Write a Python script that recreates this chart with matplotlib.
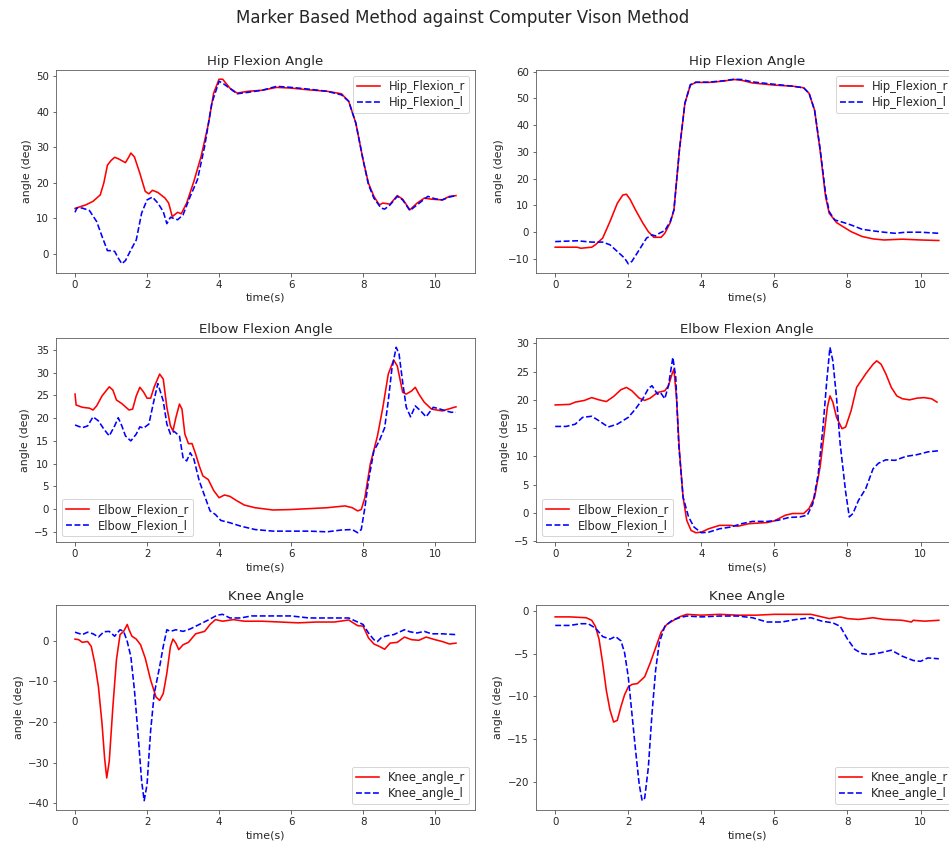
import matplotlib
matplotlib.use("Agg")
import matplotlib.pyplot as plt

# ---------------- data ----------------
# Panel 1: Hip Flexion Angle (left)
hip1_r_t = [0, 0.3, 0.5, 0.7, 0.8, 0.9, 1.0, 1.1, 1.2, 1.4, 1.5, 1.55, 1.65, 1.8, 1.95, 2.05, 2.15, 2.3, 2.5, 2.6,
            2.7, 2.85, 2.95, 3.1, 3.3, 3.5, 3.7, 3.85, 4.0, 4.1, 4.3, 4.5, 4.8, 5.2, 5.6, 6.0, 6.5, 7.0, 7.4, 7.6,
            7.8, 8.0, 8.15, 8.3, 8.45, 8.55, 8.75, 8.95, 9.1, 9.3, 9.5, 9.7, 9.9, 10.2, 10.4, 10.58]
hip1_r_v = [12.8, 13.8, 14.8, 16.6, 20.0, 25.0, 26.3, 27.2, 26.8, 25.7, 27.4, 28.4, 27.3, 22.7, 17.6, 16.9, 17.9, 17.3, 15.7, 14.3,
            10.5, 11.7, 11.3, 14.3, 20.4, 27.4, 36.4, 45.3, 49.2, 49.2, 46.7, 45.3, 45.8, 46.1, 46.9, 46.7, 46.2, 45.8, 45.1, 43.0,
            36.8, 26.5, 19.9, 16.2, 13.8, 14.3, 14.0, 16.4, 15.4, 12.4, 14.3, 15.7, 15.4, 15.2, 16.2, 16.4]
hip1_l_t = [0, 0.05, 0.2, 0.4, 0.6, 0.75, 0.9, 1.0, 1.1, 1.2, 1.3, 1.4, 1.55, 1.7, 1.85, 2.0, 2.15, 2.3, 2.45, 2.55,
            2.65, 2.85, 3.0, 3.2, 3.4, 3.6, 3.8, 4.0, 4.1, 4.5, 4.8, 5.2, 5.6, 6.0, 6.5, 7.0, 7.4, 7.6, 7.8, 8.0,
            8.15, 8.3, 8.5, 8.6, 8.75, 8.95, 9.1, 9.3, 9.5, 9.8, 10.0, 10.2, 10.4, 10.58]
hip1_l_v = [11.7, 12.9, 12.9, 12.2, 9.1, 4.9, 0.9, 0.9, 0.7, -1.2, -2.8, -1.9, 1.1, 3.9, 11.5, 15.2, 16.0, 14.3, 11.9, 8.5,
            10.3, 9.6, 11.0, 16.2, 20.9, 30.3, 42.5, 48.6, 48.1, 45.1, 45.5, 46.1, 47.2, 46.9, 46.4, 45.8, 44.8, 43.0, 36.8, 26.5,
            19.5, 15.7, 12.9, 12.6, 13.8, 16.2, 15.2, 12.2, 13.8, 16.2, 15.5, 15.2, 16.0, 16.4]

# Panel 2: Hip Flexion Angle (right)
hip2_r_t = [0, 0.6, 0.7, 1.0, 1.1, 1.3, 1.5, 1.7, 1.85, 1.95, 2.05, 2.2, 2.4, 2.55, 2.7, 2.9, 3.0, 3.15, 3.25, 3.4,
            3.55, 3.7, 3.85, 4.2, 4.6, 4.9, 5.1, 5.4, 6.0, 6.5, 6.8, 6.95, 7.1, 7.25, 7.4, 7.5, 7.7, 7.9, 8.1, 8.4,
            8.7, 9.0, 9.5, 10.0, 10.5]
hip2_r_v = [-5.6, -5.6, -6.0, -5.6, -4.7, -2.2, 4.0, 10.8, 13.9, 14.2, 12.3, 8.3, 3.4, 0.2, -1.9, -1.9, -0.4, 3.6, 8.3, 30.7,
            48.2, 55.0, 56.0, 56.0, 56.5, 57.1, 56.8, 55.8, 55.0, 54.6, 54.0, 51.9, 45.6, 30.7, 13.3, 7.1, 3.6, 1.9, 0.2, -1.6,
            -2.5, -2.9, -2.6, -2.9, -3.1]
hip2_l_t = [0, 0.6, 1.0, 1.3, 1.5, 1.7, 1.9, 2.0, 2.1, 2.3, 2.5, 2.65, 2.75, 2.85, 3.0, 3.15, 3.25, 3.4, 3.55, 3.7,
            3.85, 4.2, 4.6, 4.9, 5.1, 5.4, 6.0, 6.5, 6.8, 6.95, 7.1, 7.25, 7.4, 7.5, 7.65, 7.9, 8.1, 8.4, 8.7, 9.0,
            9.3, 9.6, 10.0, 10.5]
hip2_l_v = [-3.5, -3.2, -3.7, -3.7, -4.7, -7.2, -9.7, -11.8, -10.9, -6.6, -2.2, -1.0, -1.4, -0.4, 0.6, 4.0, 8.3, 30.7, 48.2, 55.2,
            56.1, 56.1, 56.6, 57.2, 57.1, 56.2, 55.3, 54.6, 54.0, 51.9, 45.6, 31.3, 14.5, 7.7, 4.6, 3.6, 2.7, 1.1, 0.5, 0.0,
            -0.4, 0.0, 0.0, -0.4]

# Panel 3: Elbow Flexion Angle (left)
elb1_r_t = [0, 0.03, 0.2, 0.4, 0.5, 0.6, 0.75, 0.95, 1.05, 1.15, 1.3, 1.5, 1.6, 1.7, 1.8, 1.9, 2.0, 2.1, 2.2, 2.35,
            2.45, 2.55, 2.65, 2.72, 2.8, 2.9, 2.97, 3.05, 3.15, 3.25, 3.35, 3.45, 3.55, 3.7, 3.85, 4.0, 4.15, 4.3, 4.5, 4.7,
            5.0, 5.5, 6.0, 6.5, 7.0, 7.5, 7.7, 7.85, 7.95, 8.05, 8.2, 8.4, 8.55, 8.7, 8.85, 8.95, 9.1, 9.2, 9.35, 9.45,
            9.55, 9.7, 9.9, 10.2, 10.45, 10.58]
elb1_r_v = [25.3, 22.9, 22.4, 22.2, 21.8, 22.7, 24.9, 26.9, 26.2, 24.0, 23.2, 21.8, 22.0, 24.9, 26.8, 25.8, 24.4, 24.4, 26.9, 29.7,
            28.6, 22.4, 18.3, 17.2, 20.1, 23.1, 22.0, 16.5, 14.4, 14.4, 12.1, 9.5, 7.3, 6.5, 4.1, 2.5, 3.1, 2.8, 1.8, 0.9,
            0.3, -0.2, -0.1, 0.1, 0.3, 0.7, 0.3, -0.4, -0.1, 2.5, 9.9, 16.1, 22.4, 29.7, 32.8, 31.5, 25.7, 25.3, 26.0, 26.8,
            25.3, 23.5, 22.0, 21.6, 22.2, 22.5]
elb1_l_t = [0, 0.2, 0.35, 0.5, 0.65, 0.8, 0.95, 1.1, 1.2, 1.3, 1.4, 1.55, 1.7, 1.8, 1.9, 2.05, 2.2, 2.3, 2.45, 2.55,
            2.65, 2.75, 2.9, 3.0, 3.1, 3.2, 3.3, 3.45, 3.6, 3.75, 3.9, 4.05, 4.3, 4.6, 5.0, 5.5, 6.0, 6.5, 7.0, 7.4,
            7.7, 7.85, 7.95, 8.05, 8.15, 8.3, 8.45, 8.6, 8.7, 8.8, 8.92, 9.0, 9.1, 9.2, 9.32, 9.45, 9.6, 9.75, 9.95, 10.1,
            10.3, 10.45, 10.58]
elb1_l_v = [18.5, 17.9, 18.3, 20.3, 19.4, 17.6, 16.1, 18.3, 20.1, 18.3, 16.1, 15.0, 16.5, 18.1, 17.8, 18.7, 24.2, 27.6, 23.8, 18.7,
            16.5, 17.1, 16.1, 11.3, 10.6, 12.4, 11.0, 6.2, 2.9, -0.4, -1.2, -2.5, -3.0, -3.75, -4.5, -4.85, -4.85, -4.85, -5.0, -4.6,
            -4.5, -5.2, -4.5, 0.3, 6.2, 12.8, 15.0, 17.9, 23.8, 30.8, 35.6, 34.1, 27.9, 22.4, 20.3, 22.7, 21.6, 20.3, 22.4, 22.1,
            21.6, 21.3, 21.3]

# Panel 4: Elbow Flexion Angle (right)
elb2_r_t = [0, 0.4, 0.55, 0.8, 1.0, 1.2, 1.4, 1.6, 1.8, 1.95, 2.1, 2.3, 2.45, 2.6, 2.8, 3.0, 3.1, 3.2, 3.25, 3.32,
            3.4, 3.5, 3.6, 3.72, 3.85, 4.0, 4.2, 4.5, 4.8, 5.0, 5.3, 5.8, 6.0, 6.3, 6.5, 6.8, 6.95, 7.1, 7.25, 7.35,
            7.45, 7.52, 7.6, 7.7, 7.85, 7.95, 8.1, 8.25, 8.5, 8.7, 8.8, 8.92, 9.05, 9.2, 9.35, 9.5, 9.7, 9.9, 10.1, 10.3,
            10.45]
elb2_r_v = [19.1, 19.2, 19.6, 19.9, 20.4, 20.0, 19.7, 20.6, 21.8, 22.2, 21.6, 20.3, 19.9, 20.3, 21.3, 21.6, 22.5, 24.6, 25.4, 20.4,
            11.0, 2.8, -1.3, -3.1, -3.5, -3.4, -2.8, -2.2, -2.2, -2.35, -1.9, -1.7, -1.4, -0.4, -0.1, -0.1, 0.8, 2.8, 8.1, 13.4,
            18.7, 20.7, 19.6, 16.9, 14.9, 15.2, 18.1, 22.2, 24.6, 26.3, 26.9, 26.3, 24.6, 22.2, 20.7, 20.2, 20.0, 20.3, 20.4, 20.2,
            19.6]
elb2_l_t = [0, 0.3, 0.55, 0.75, 1.0, 1.2, 1.45, 1.7, 2.0, 2.2, 2.4, 2.55, 2.65, 2.8, 2.88, 3.0, 3.1, 3.22, 3.3, 3.38,
            3.5, 3.65, 3.8, 4.0, 4.2, 4.5, 4.8, 5.1, 5.4, 5.8, 6.1, 6.4, 6.7, 6.9, 7.05, 7.2, 7.33, 7.43, 7.52, 7.6,
            7.7, 7.8, 7.95, 8.05, 8.15, 8.3, 8.5, 8.7, 8.85, 9.05, 9.3, 9.6, 9.9, 10.2, 10.5]
elb2_l_v = [15.3, 15.3, 15.7, 16.9, 17.1, 16.3, 15.2, 15.7, 16.9, 18.4, 20.2, 22.0, 22.5, 21.0, 21.3, 20.2, 22.5, 27.5, 24.0, 12.2,
            2.8, -0.7, -2.5, -3.5, -3.4, -2.8, -2.5, -1.9, -1.5, -1.5, -1.3, -0.8, -0.7, -0.4, 1.6, 6.9, 15.2, 23.1, 29.3, 26.9,
            20.4, 12.2, 3.7, -0.7, -0.1, 2.2, 4.3, 7.8, 8.8, 9.4, 9.3, 10.0, 10.3, 10.8, 11.0]

# Panel 5: Knee Angle (left)
knee1_r_t = [0, 0.1, 0.2, 0.35, 0.45, 0.55, 0.65, 0.75, 0.82, 0.88, 0.95, 1.05, 1.15, 1.25, 1.35, 1.45, 1.5, 1.58, 1.7, 1.82,
             1.95, 2.1, 2.25, 2.35, 2.45, 2.55, 2.65, 2.72, 2.8, 2.88, 3.0, 3.15, 3.35, 3.6, 3.75, 3.9, 4.1, 4.4, 4.7, 5.2,
             5.7, 6.2, 6.7, 7.2, 7.6, 7.85, 8.0, 8.15, 8.3, 8.45, 8.6, 8.75, 8.95, 9.15, 9.35, 9.55, 9.75, 10.0, 10.2, 10.4,
             10.58]
knee1_r_v = [0.4, 0.25, -0.4, -0.2, -1.4, -5.6, -11.4, -20.5, -28.8, -33.8, -29.7, -16.4, -4.7, 1.5, 2.3, 4.0, 2.7, 1.1, 0.4, -1.0,
             -4.3, -9.7, -13.9, -14.7, -13.0, -8.0, -1.4, 0.4, -0.6, -2.2, -1.0, -0.4, 1.7, 2.3, 4.0, 5.2, 4.8, 5.2, 4.8, 4.8,
             4.6, 4.4, 4.6, 4.6, 5.1, 3.7, 3.6, 0.7, -0.8, -1.4, -2.1, -0.6, -0.4, 0.9, 0.25, 0.1, 0.9, 0.25, -0.2, -0.8,
             -0.6]
knee1_l_t = [0, 0.2, 0.35, 0.5, 0.65, 0.8, 0.95, 1.1, 1.25, 1.35, 1.45, 1.55, 1.65, 1.75, 1.85, 1.92, 2.0, 2.1, 2.2, 2.35,
             2.45, 2.55, 2.65, 2.8, 3.0, 3.2, 3.45, 3.7, 3.95, 4.1, 4.3, 4.6, 4.9, 5.5, 6.0, 6.5, 7.0, 7.6, 7.85, 8.0,
             8.15, 8.3, 8.4, 8.5, 8.65, 8.85, 9.0, 9.15, 9.3, 9.5, 9.7, 9.9, 10.2, 10.58]
knee1_l_v = [2.1, 1.5, 2.1, 1.7, 0.9, 2.2, 2.3, 1.1, 2.7, 2.3, -0.2, -3.9, -12.2, -23.0, -34.6, -39.4, -35.4, -22.1, -13.0, -6.4,
             -1.4, 2.7, 2.3, 2.7, 2.3, 2.9, 4.0, 5.1, 6.3, 6.5, 5.6, 5.6, 6.1, 6.1, 6.1, 5.6, 5.6, 5.6, 4.6, 4.0,
             1.9, 0.25, -0.2, 0.7, 1.2, 1.5, 2.1, 2.7, 2.2, 1.9, 2.3, 1.7, 1.7, 1.5]

# Panel 6: Knee Angle (right)
knee2_r_t = [0, 0.4, 0.85, 1.0, 1.1, 1.2, 1.3, 1.4, 1.5, 1.6, 1.7, 1.8, 1.9, 2.0, 2.1, 2.25, 2.35, 2.45, 2.6, 2.75,
             2.9, 3.05, 3.2, 3.4, 3.6, 4.0, 4.5, 5.0, 5.5, 6.0, 6.5, 7.0, 7.3, 7.5, 7.8, 8.0, 8.3, 8.7, 9.0, 9.5,
             9.75, 9.8, 10.1, 10.5]
knee2_r_v = [-0.7, -0.7, -0.8, -1.1, -1.8, -3.3, -6.1, -9.3, -11.6, -13.0, -12.8, -11.2, -9.8, -8.9, -8.6, -8.5, -8.1, -7.7, -6.1, -4.3,
             -2.5, -1.6, -1.2, -0.7, -0.4, -0.5, -0.4, -0.5, -0.5, -0.4, -0.4, -0.4, -0.7, -0.9, -0.7, -0.9, -1.0, -0.8, -1.0, -1.1,
             -1.3, -1.1, -1.2, -1.1]
knee2_l_t = [0, 0.4, 0.7, 0.9, 1.1, 1.3, 1.5, 1.65, 1.8, 1.9, 2.0, 2.1, 2.2, 2.3, 2.38, 2.45, 2.55, 2.65, 2.75, 2.85,
             3.0, 3.2, 3.4, 3.6, 4.0, 4.5, 5.0, 5.4, 5.8, 6.2, 6.6, 7.0, 7.3, 7.6, 7.8, 8.0, 8.2, 8.4, 8.6, 8.9,
             9.2, 9.5, 9.8, 10.0, 10.2, 10.5]
knee2_l_v = [-1.7, -1.7, -1.5, -1.5, -2.0, -3.0, -3.3, -3.0, -3.5, -4.9, -7.7, -12.0, -16.3, -20.3, -22.2, -21.9, -18.3, -12.0, -6.9, -3.7,
             -1.8, -1.1, -0.8, -0.6, -0.7, -0.6, -0.6, -0.8, -1.3, -1.3, -1.0, -0.8, -1.2, -1.4, -1.8, -3.3, -4.5, -5.0, -5.1, -4.9,
             -4.6, -5.3, -5.8, -5.9, -5.5, -5.6]

titles = ["Hip Flexion Angle", "Hip Flexion Angle", "Elbow Flexion Angle",
          "Elbow Flexion Angle", "Knee Angle", "Knee Angle"]
labels_r = ["Hip_Flexion_r", "Hip_Flexion_r", "Elbow_Flexion_r", "Elbow_Flexion_r", "Knee_angle_r", "Knee_angle_r"]
labels_l = ["Hip_Flexion_l", "Hip_Flexion_l", "Elbow_Flexion_l", "Elbow_Flexion_l", "Knee_angle_l", "Knee_angle_l"]
suptitle = "Marker Based Method against Computer Vison Method"

series = [
    (hip1_r_t, hip1_r_v, hip1_l_t, hip1_l_v),
    (hip2_r_t, hip2_r_v, hip2_l_t, hip2_l_v),
    (elb1_r_t, elb1_r_v, elb1_l_t, elb1_l_v),
    (elb2_r_t, elb2_r_v, elb2_l_t, elb2_l_v),
    (knee1_r_t, knee1_r_v, knee1_l_t, knee1_l_v),
    (knee2_r_t, knee2_r_v, knee2_l_t, knee2_l_v),
]
legend_locs = ["upper right", "upper right", "lower left", "lower left", "lower right", "lower right"]

# ---------------- figure ----------------
W, H, DPI = 949, 848, 72
fig = plt.figure(figsize=(W / DPI, H / DPI), dpi=DPI)

col_x = [56 / W, 536 / W]
col_w = [419 / W, 422 / W]
row_tb = [(70, 273), (338, 542), (605, 810)]
text_color = "#262626"

for i, (rt, rv, lt, lv) in enumerate(series):
    r, c = divmod(i, 2)
    top, bot = row_tb[r]
    ax = fig.add_axes([col_x[c], 1 - bot / H, col_w[c], (bot - top) / H])
    ax.plot(rt, rv, color="red", linestyle="-", linewidth=1.6, label=labels_r[i])
    ax.plot(lt, lv, color="blue", linestyle="--", linewidth=1.6, label=labels_l[i])
    ax.set_title(titles[i], fontsize=13.2, color=text_color, pad=5)
    ax.set_xlabel("time(s)", fontsize=11, color=text_color, labelpad=3)
    ax.set_ylabel("angle (deg)", fontsize=11, color=text_color)
    ax.set_xticks([0, 2, 4, 6, 8, 10])
    ax.tick_params(labelsize=10.3, labelcolor=text_color, color="#444444")
    for s in ax.spines.values():
        s.set_color("#555555")
    leg = ax.legend(loc=legend_locs[i], fontsize=11.5, labelspacing=0.3, borderpad=0.35,
                    handlelength=2.0)
    for t in leg.get_texts():
        t.set_color(text_color)

fig.suptitle(suptitle, fontsize=16.6, x=463 / W, y=1 - 18 / H, va="center", color=text_color)

fig.savefig("out.png", dpi=DPI)
